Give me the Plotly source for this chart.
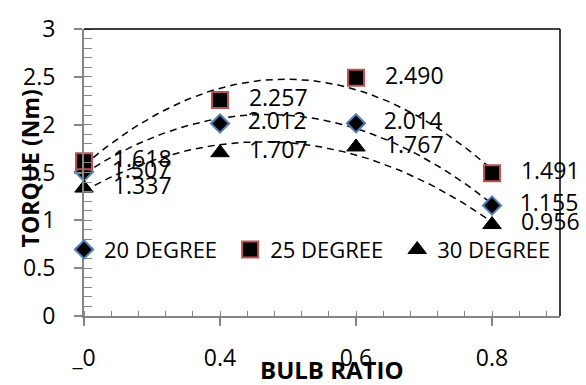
import numpy as np
import plotly.graph_objects as go

bulb_ratio = [0.2, 0.4, 0.6, 0.8]
torque_20 = [1.507, 2.012, 2.014, 1.155]
torque_25 = [1.618, 2.257, 2.490, 1.491]
torque_30 = [1.337, 1.707, 1.767, 0.956]
series_names = ["20 DEGREE", "25 DEGREE", "30 DEGREE"]
x_tick_vals = [0.2, 0.4, 0.6, 0.8]
x_tick_text = ["_0", "0.4", "0.6", "0.8"]
y_tick_vals = [0, 0.5, 1, 1.5, 2, 2.5, 3]
y_tick_text = ["0", "0.5", "1", "1.5", "2", "2.5", "3"]

FONT = "Open Sans"
fig = go.Figure()

# polynomial (order 2) trendlines, fitted from the data
xs = np.linspace(min(bulb_ratio), max(bulb_ratio), 80)
for ys in (torque_20, torque_25, torque_30):
    c = np.polyfit(bulb_ratio, ys, 2)
    fig.add_trace(go.Scatter(x=xs, y=np.polyval(c, xs), mode="lines",
                             line=dict(color="black", width=1.5, dash="7px,5px"),
                             showlegend=False, hoverinfo="skip"))

styles = [
    dict(symbol="diamond", size=14, color="black", line=dict(color="#4F81BD", width=2)),
    dict(symbol="square", size=16, color="black", line=dict(color="#C0504D", width=2)),
    dict(symbol="triangle-up", size=16, color="black", line=dict(color="black", width=1)),
]
legend_ids = ["legend", "legend2", "legend3"]
for name, ys, st, lg in zip(series_names, (torque_20, torque_25, torque_30), styles, legend_ids):
    fig.add_trace(go.Scatter(
        x=bulb_ratio, y=ys, mode="markers+text", name=name,
        marker=st, legend=lg,
        text=["   " + f"{v:.3f}" for v in ys],
        textposition="middle right",
        textfont=dict(family=FONT, size=23, color="black"),
        cliponaxis=False,
    ))

def legend_at(xp):
    return dict(orientation="h", x=xp, y=0.231, xanchor="left", yanchor="middle",
                bgcolor="rgba(0,0,0,0)", borderwidth=0,
                font=dict(family=FONT, size=22, color="black"))

fig.update_layout(
    width=586, height=385,
    margin=dict(l=84, r=26, t=18, b=68),
    paper_bgcolor="white", plot_bgcolor="white",
    font=dict(family=FONT, color="black"),
    showlegend=True,
    legend=legend_at(-0.042),
    legend2=legend_at(0.307),
    legend3=legend_at(0.658),
    xaxis=dict(range=[0.2, 0.9], tickvals=x_tick_vals, ticktext=x_tick_text,
               showgrid=False, zeroline=False, showline=True, linecolor="#868686", linewidth=2,
               ticks="outside", ticklen=8, tickcolor="#868686", tickwidth=1.5,
               minor=dict(dtick=0.04, ticks="inside", ticklen=5, tickcolor="#868686", tickwidth=1),
               tickfont=dict(family=FONT, size=23, color="black"), ticklabelstandoff=12),
    yaxis=dict(range=[0, 3], tickvals=y_tick_vals, ticktext=y_tick_text,
               showgrid=False, zeroline=False, showline=True, linecolor="#868686", linewidth=2,
               ticks="outside", ticklen=8, tickcolor="#868686", tickwidth=1.5,
               minor=dict(dtick=0.1, ticks="inside", ticklen=8, tickcolor="#868686", tickwidth=1),
               tickfont=dict(family=FONT, size=23, color="black"), ticklabelstandoff=14),
    shapes=[
        dict(type="line", xref="paper", yref="paper", x0=0, x1=1, y0=1, y1=1,
             line=dict(color="black", width=1.5)),
        dict(type="line", xref="paper", yref="paper", x0=1, x1=1, y0=0, y1=1,
             line=dict(color="black", width=1.5)),
    ],
    annotations=[
        dict(text="<b>TORQUE (Nm)</b>", textangle=-90, xref="paper", yref="paper",
             x=-0.113, y=0.515, xanchor="center", yanchor="middle", showarrow=False,
             font=dict(family=FONT, size=23, color="black")),
        dict(text="<b>BULB RATIO</b>", xref="paper", yref="paper",
             x=0.521, y=-0.187, xanchor="center", yanchor="middle", showarrow=False,
             font=dict(family=FONT, size=24, color="black")),
    ],
)

fig.write_html("out.html")
